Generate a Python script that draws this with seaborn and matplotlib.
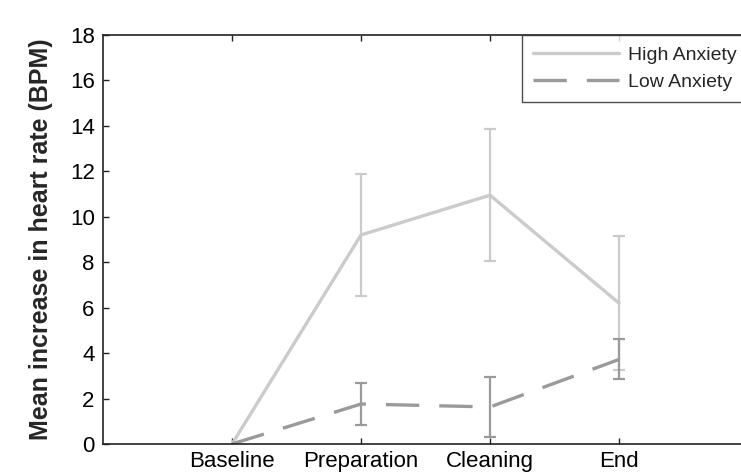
import matplotlib
matplotlib.use("Agg")
import matplotlib.pyplot as plt
import seaborn as sns
import pandas as pd
import numpy as np

phases = ["Baseline", "Preparation", "Cleaning", "End"]
high_mean = [0.0, 9.2, 10.95, 6.2]
high_err = [0.0, 2.67, 2.9, 2.95]
low_mean = [0.0, 1.76, 1.63, 3.72]
low_err = [0.0, 0.93, 1.3, 0.88]
groups = ["High Anxiety", "Low Anxiety"]
yticks = [0, 2, 4, 6, 8, 10, 12, 14, 16, 18]

sns.set_style("ticks")
plt.rcParams["font.family"] = ["Liberation Sans", "DejaVu Sans"]

df = pd.DataFrame({
    "phase": list(range(len(phases))) * 2,
    "value": high_mean + low_mean,
    "err": high_err + low_err,
    "group": [groups[0]] * len(phases) + [groups[1]] * len(phases),
})

colors = {"High Anxiety": "#cbcbcb", "Low Anxiety": "#9a9a9a"}
dashes = {"High Anxiety": "", "Low Anxiety": (10, 6)}

fig = plt.figure(figsize=(7.41, 4.73), dpi=100)
ax = fig.add_axes([103 / 741, 1 - 444 / 473, (748 - 103) / 741, (444 - 35) / 473])

sns.lineplot(data=df, x="phase", y="value", hue="group", style="group",
             palette=colors, dashes=dashes, linewidth=2.4, ax=ax,
             estimator=None, errorbar=None)

for g in groups:
    sub = df[(df["group"] == g) & (df["err"] > 0)]
    ax.errorbar(sub["phase"], sub["value"], yerr=sub["err"], fmt="none",
                ecolor=colors[g], elinewidth=1.6, capsize=4, capthick=1.6, zorder=1)

ax.set_xlim(-1, 4)
ax.set_ylim(0, 18)
ax.set_xticks(range(len(phases)))
ax.set_xticklabels(phases)
ax.set_yticks(yticks)
ax.tick_params(axis="both", direction="in", length=4, width=1, labelsize=16,
               top=True, right=True, colors="#222222", labelcolor="black")
ax.tick_params(axis="x", pad=5)
ax.tick_params(axis="y", pad=6)
for s in ax.spines.values():
    s.set_linewidth(1.2)
    s.set_color("#222222")

ax.set_xlabel("")
ax.set_ylabel("Mean increase in heart rate (BPM)", fontsize=18, fontweight="bold", labelpad=12)

leg = ax.legend(loc="upper right", bbox_to_anchor=(1.0, 1.0), borderaxespad=0,
                fontsize=14, frameon=True, fancybox=False, handlelength=4.4,
                handletextpad=0.45, borderpad=0.6, labelspacing=0.45)
leg.get_frame().set_edgecolor("#222222")
leg.get_frame().set_linewidth(1.0)

fig.savefig("out.png", dpi=100)
